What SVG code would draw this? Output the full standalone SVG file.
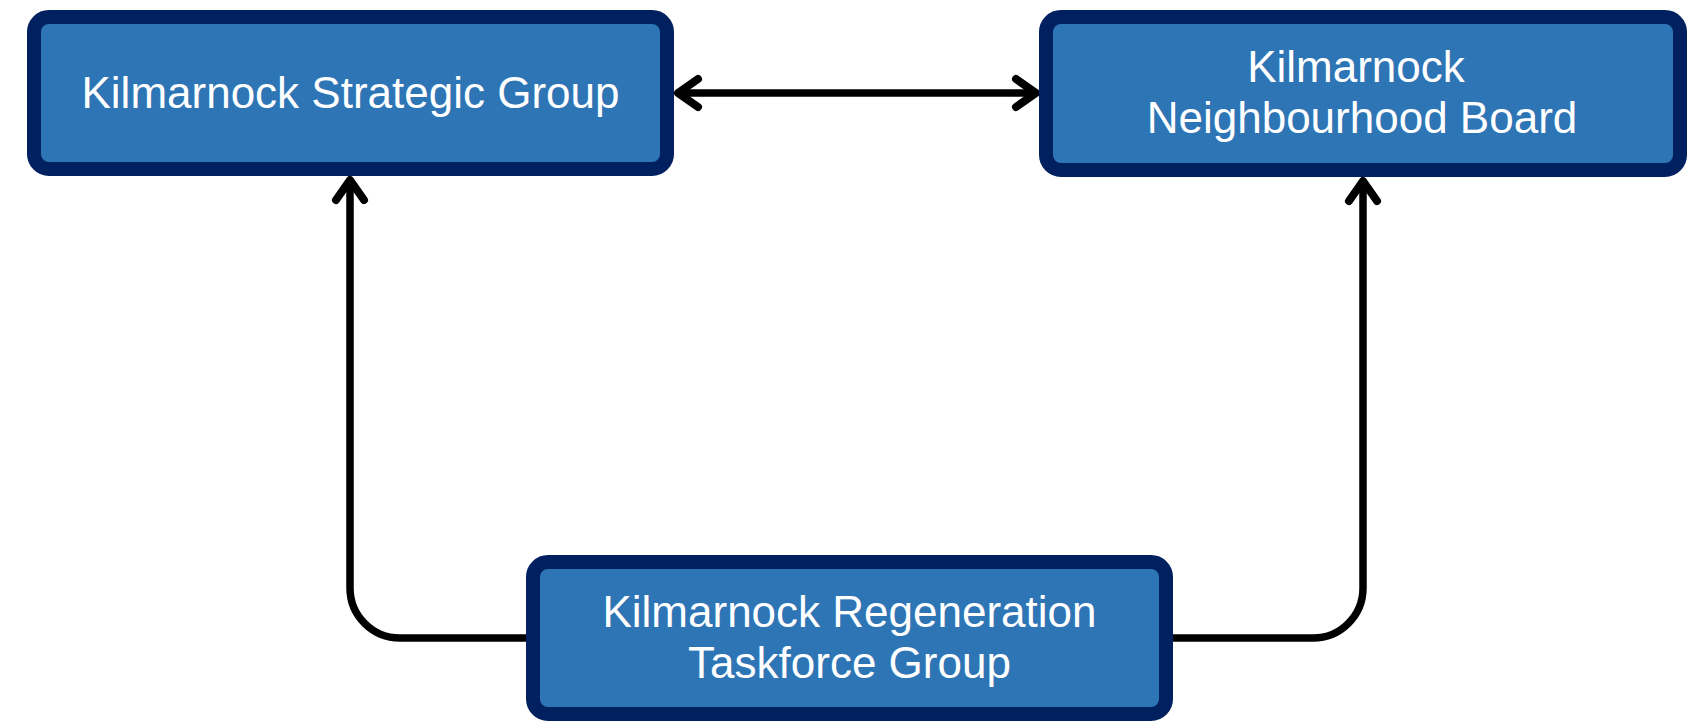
<svg xmlns="http://www.w3.org/2000/svg" width="1695" height="721" viewBox="0 0 1695 721">
  <style>
    .box { fill: #2E75B6; stroke: #002060; stroke-width: 14; }
    .lbl { fill: #FFFFFF; font-family: "Liberation Sans", Arial, sans-serif; font-size: 44px; text-anchor: middle; }
    .conn { fill: none; stroke: #000000; stroke-width: 7.5; stroke-linejoin: round; }
  </style>
  <defs>
    <marker id="chev" markerUnits="userSpaceOnUse" viewBox="-30 -20 40 40" refX="0" refY="0" markerWidth="40" markerHeight="40" orient="auto-start-reverse" overflow="visible">
      <path d="M-20,-14 L0,0 L-20,14" fill="none" stroke="#000000" stroke-width="8" stroke-linecap="round" stroke-linejoin="round"/>
    </marker>
  </defs>
  <rect width="1695" height="721" fill="#FFFFFF"/>
  <g id="connectors">
    <path class="conn" d="M678,93 H1036" marker-start="url(#chev)" marker-end="url(#chev)"/>
    <path class="conn" d="M526,638 H400 A50,50 0 0 1 350,588 V180" marker-end="url(#chev)"/>
    <path class="conn" d="M1173,638 H1313 A50,50 0 0 0 1363,588 V181" marker-end="url(#chev)"/>
  </g>
  <g id="strategic-group">
    <rect class="box" x="34" y="17" width="633" height="152" rx="15"/>
    <text class="lbl" x="350.5" y="108">Kilmarnock Strategic Group</text>
  </g>
  <g id="neighbourhood-board">
    <rect class="box" x="1046" y="17" width="634" height="153" rx="15"/>
    <text class="lbl" x="1356" y="82">Kilmarnock</text>
    <text class="lbl" x="1362" y="133">Neighbourhood Board</text>
  </g>
  <g id="regeneration-taskforce">
    <rect class="box" x="533" y="562" width="633" height="152" rx="15"/>
    <text class="lbl" x="849.5" y="627">Kilmarnock Regeneration</text>
    <text class="lbl" x="849.5" y="678">Taskforce Group</text>
  </g>
</svg>
